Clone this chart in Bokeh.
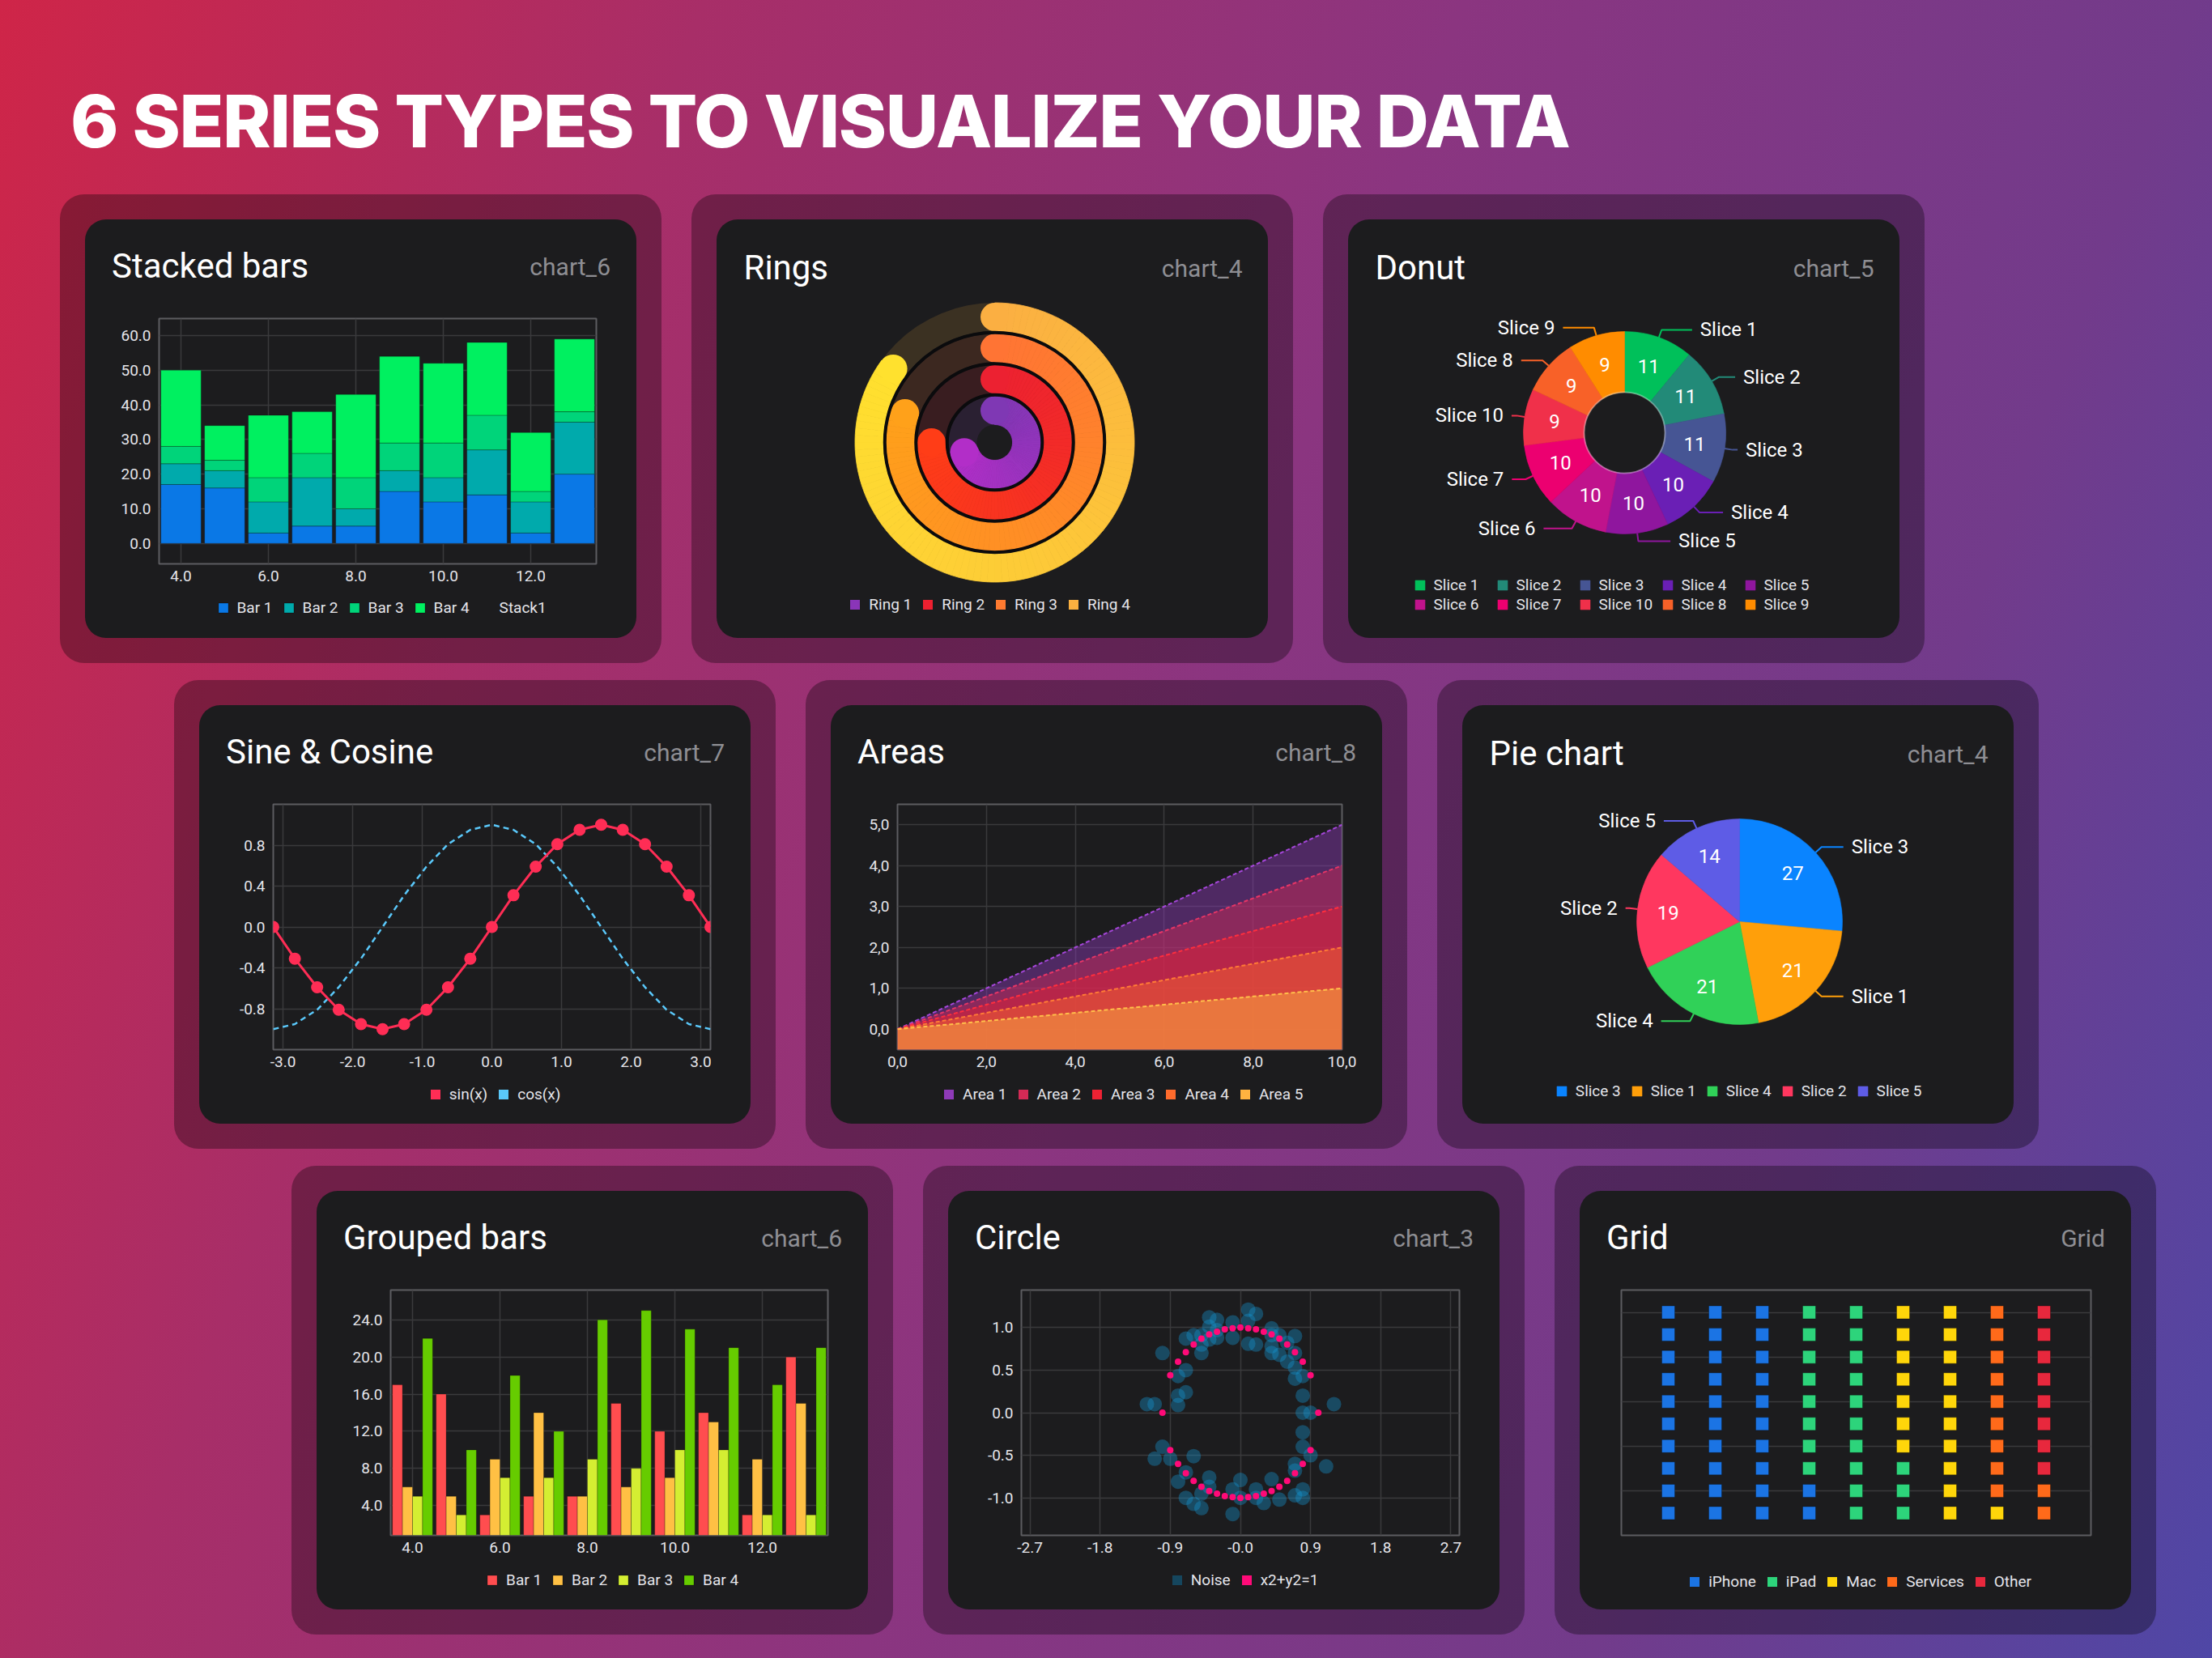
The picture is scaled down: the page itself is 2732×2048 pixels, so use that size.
import math
import html
from bokeh.plotting import figure
from bokeh.models import (Range1d, FixedTicker, NumeralTickFormatter, Legend, LegendItem,
                          Label, Grid, Div, ColumnDataSource)
from bokeh.layouts import column, row
from bokeh.transform import dodge
from bokeh.embed import file_html
from bokeh.resources import INLINE
from bokeh.core.properties import value

# ---------------------------------------------------------------- data
PAGE_TITLE = "6 SERIES TYPES TO VISUALIZE YOUR DATA"

card_titles = ["Stacked bars", "Rings", "Donut", "Sine & Cosine", "Areas", "Pie chart",
               "Grouped bars", "Circle", "Grid"]
card_tags = ["chart_6", "chart_4", "chart_5", "chart_7", "chart_8", "chart_4",
             "chart_6", "chart_3", "Grid"]

bar_x = [4, 5, 6, 7, 8, 9, 10, 11, 12, 13]
bar_names = ["Bar 1", "Bar 2", "Bar 3", "Bar 4"]
bar1 = [17, 16, 3, 5, 5, 15, 12, 14, 3, 20]
bar2 = [6, 5, 9, 14, 5, 6, 7, 13, 9, 15]
bar3 = [5, 3, 7, 7, 9, 8, 10, 10, 3, 3]
bar4 = [22, 10, 18, 12, 24, 25, 23, 21, 17, 21]
stack_label = "Stack1"
bar_xticks = [4, 6, 8, 10, 12]
stack_yticks = [0, 10, 20, 30, 40, 50, 60]
group_yticks = [4, 8, 12, 16, 20, 24]

ring_names = ["Ring 1", "Ring 2", "Ring 3", "Ring 4"]
ring_values = [70, 75, 80, 85]

donut_names = ["Slice 1", "Slice 2", "Slice 3", "Slice 4", "Slice 5",
               "Slice 6", "Slice 7", "Slice 10", "Slice 8", "Slice 9"]
donut_values = [11, 11, 11, 10, 10, 10, 10, 9, 9, 9]

sine_x = [-3.14, -2.83, -2.51, -2.2, -1.88, -1.57, -1.26, -0.94, -0.63, -0.31, 0.0,
          0.31, 0.63, 0.94, 1.26, 1.57, 1.88, 2.2, 2.51, 2.83, 3.14]
sin_y = [0.0, -0.31, -0.59, -0.81, -0.95, -1.0, -0.95, -0.81, -0.59, -0.31, 0.0,
         0.31, 0.59, 0.81, 0.95, 1.0, 0.95, 0.81, 0.59, 0.31, 0.0]
cos_y = [-1.0, -0.95, -0.81, -0.59, -0.31, 0.0, 0.31, 0.59, 0.81, 0.95, 1.0,
         0.95, 0.81, 0.59, 0.31, 0.0, -0.31, -0.59, -0.81, -0.95, -1.0]
sine_names = ["sin(x)", "cos(x)"]
sine_xticks = [-3, -2, -1, 0, 1, 2, 3]
sine_yticks = [-0.8, -0.4, 0, 0.4, 0.8]

area_names = ["Area 1", "Area 2", "Area 3", "Area 4", "Area 5"]
area_x = [0, 1, 2, 3, 4, 5, 6, 7, 8, 9, 10]
area1 = [0.0, 0.5, 1.0, 1.5, 2.0, 2.5, 3.0, 3.5, 4.0, 4.5, 5.0]
area2 = [0.0, 0.4, 0.8, 1.2, 1.6, 2.0, 2.4, 2.8, 3.2, 3.6, 4.0]
area3 = [0.0, 0.3, 0.6, 0.9, 1.2, 1.5, 1.8, 2.1, 2.4, 2.7, 3.0]
area4 = [0.0, 0.2, 0.4, 0.6, 0.8, 1.0, 1.2, 1.4, 1.6, 1.8, 2.0]
area5 = [0.0, 0.1, 0.2, 0.3, 0.4, 0.5, 0.6, 0.7, 0.8, 0.9, 1.0]
area_xticks = [0, 2, 4, 6, 8, 10]
area_xtick_labels = ["0,0", "2,0", "4,0", "6,0", "8,0", "10,0"]
area_yticks = [0, 1, 2, 3, 4, 5]
area_ytick_labels = ["0,0", "1,0", "2,0", "3,0", "4,0", "5,0"]

pie_names = ["Slice 3", "Slice 1", "Slice 4", "Slice 2", "Slice 5"]
pie_values = [27, 21, 21, 19, 14]

circle_names = ["Noise", "x2+y2=1"]
circ_x = [-1.0, -0.9, -0.8, -0.7, -0.6, -0.5, -0.4, -0.3, -0.2, -0.1, 0.0,
          0.1, 0.2, 0.3, 0.4, 0.5, 0.6, 0.7, 0.8, 0.9, 1.0,
          -0.9, -0.8, -0.7, -0.6, -0.5, -0.4, -0.3, -0.2, -0.1, 0.0,
          0.1, 0.2, 0.3, 0.4, 0.5, 0.6, 0.7, 0.8, 0.9]
circ_y = [0.0, 0.44, 0.6, 0.71, 0.8, 0.87, 0.92, 0.95, 0.98, 0.99, 1.0,
          0.99, 0.98, 0.95, 0.92, 0.87, 0.8, 0.71, 0.6, 0.44, 0.0,
          -0.44, -0.6, -0.71, -0.8, -0.87, -0.92, -0.95, -0.98, -0.99, -1.0,
          -0.99, -0.98, -0.95, -0.92, -0.87, -0.8, -0.71, -0.6, -0.44]
noise_x = [0.10, 0.20, -0.40, -0.30, -0.10, 0.10, 0.40, -0.40, -0.60, -0.50,
           -0.30, -0.70, -0.40, -0.30, -0.10, 0.10, 0.20, 0.40, 0.50, 0.70,
           0.60, 0.40, 0.40, 0.50, 0.70, 0.60, 0.70, -1.00, -0.50, -0.50,
           -0.70, -0.80, 0.80, 0.70, -0.80, -0.70, -0.80, -1.20, -1.10, 0.80,
           0.80, 0.90, 1.20, 0.80, -1.00, -1.10, -0.90, -0.60, 0.80, 0.90,
           0.70, 0.70, 1.10, -0.70, -0.80, -0.40, -0.40, 0.00, 0.40, -0.10,
           0.20, -0.50, -0.70, -0.60, -0.50, 0.00, 0.20, 0.30, 0.50, 0.70,
           0.80, 0.80, -0.10]
noise_y = [1.21, 1.16, 1.12, 1.09, 1.06, 1.08, 0.99, 1.01, 0.91, 0.91,
           0.97, 0.87, 0.86, 0.88, 0.88, 0.81, 0.80, 0.91, 0.91, 0.90,
           0.82, 0.78, 0.70, 0.68, 0.70, 0.60, 0.53, 0.70, 0.70, 0.80,
           0.50, 0.43, 0.43, 0.40, 0.20, 0.24, 0.09, 0.10, 0.10, 0.20,
           0.00, 0.00, 0.10, -0.23, -0.40, -0.54, -0.54, -0.51, -0.40, -0.50,
           -0.60, -0.68, -0.63, -0.70, -0.81, -0.76, -0.87, -0.79, -0.78, -0.90,
           -0.90, -0.95, -1.00, -1.07, -1.12, -1.00, -1.00, -1.06, -1.02, -0.97,
           -0.90, -1.00, -1.19]
circ_xticks = [-2.7, -1.8, -0.9, 0, 0.9, 1.8, 2.7]
circ_xtick_labels = ["-2.7", "-1.8", "-0.9", "-0.0", "0.9", "1.8", "2.7"]
circ_yticks = [-1.0, -0.5, 0, 0.5, 1.0]
circ_ytick_labels = ["-1.0", "-0.5", "0.0", "0.5", "1.0"]

grid_names = ["iPhone", "iPad", "Mac", "Services", "Other"]
grid_counts = [32, 21, 18, 11, 8]
GRID_ROWS = 10

# ---------------------------------------------------------------- style
FONT = "Roboto"
CARD_BG = "#1c1c1e"
TXT = "#e5e5ea"
GRID_C = "#3a3a3c"
FRAME_C = "#5c5c60"
CARD_W, CARD_H = 681, 517
HEAD_H, CHART_H = 92, 365          # axis cards: header div / chart figure / legend figure
LEG_H = CARD_H - HEAD_H - CHART_H
GRADIENT = ("linear-gradient(110deg, #cf2548 0%, #a82e68 25%, #8b3580 52%, "
            "#723b8b 78%, #4f47a6 100%)")
CARD_STYLE = {"background-color": CARD_BG, "border-radius": "26px"}

STACK_COLORS = ["#0a78e6", "#00aaac", "#00d47a", "#00f060"]
GROUP_COLORS = ["#ff4d4f", "#ffc044", "#d4ee32", "#66cc00"]
RING_GRAD = [("#7f38b4", "#b22ec8"), ("#ec2131", "#ff3d17"),
             ("#ff7434", "#ffa11a"), ("#fbaf42", "#ffe12e")]
RING_LEGEND = ["#8a35b8", "#ee2030", "#ff7a30", "#fbb040"]
DONUT_COLORS = ["#00c05a", "#228a78", "#465594", "#6a1fb5", "#8f169e",
                "#c0138c", "#ec0070", "#f0304a", "#f86128", "#ff8c00"]
SINE_COLORS = ["#ff2d55", "#5ac8fa"]
AREA_COLORS = ["#8e3ab8", "#d42a55", "#ee2233", "#ff6b2c", "#ffb340"]
AREA_LINES = ["#a446d8", "#e63566", "#ff2e3e", "#ff7a36", "#ffbe4a"]
PIE_COLORS = ["#0a84ff", "#ff9f0a", "#30d158", "#ff375f", "#5e5ce6"]
NOISE_C, CIRCLE_C = "#1496d2", "#ff0a78"
CIRCLE_LEGEND = ["#15465e", CIRCLE_C]
GRID_COLORS = ["#1b74e4", "#2dd47b", "#ffd60a", "#ff6a1a", "#e8283d"]
NAN = float("nan")

# approximate Roboto advance widths (em) used to centre the legends
CHAR_W = {" ": .248, "(": .342, ")": .348, "+": .567, "=": .549, "A": .652, "B": .622,
          "M": .873, "N": .713, "O": .688, "P": .631, "R": .617, "S": .593, "a": .544,
          "c": .523, "d": .563, "e": .529, "g": .560, "h": .551, "i": .243, "k": .506,
          "l": .242, "n": .551, "o": .570, "r": .338, "s": .516, "t": .327, "v": .483,
          "x": .495, "y": .473}
FRAME_BOX = {}


def text_w(s, size=19):
    return sum(CHAR_W.get(ch, .562) for ch in s) * size


def mix(c0, c1, t):
    a = [int(c0[i:i + 2], 16) for i in (1, 3, 5)]
    b = [int(c1[i:i + 2], 16) for i in (1, 3, 5)]
    return "#%02x%02x%02x" % tuple(int(round(a[k] + (b[k] - a[k]) * t)) for k in range(3))


def padded(lo, hi, frac=0.1):
    span = hi - lo
    return Range1d(lo - frac * span, hi + frac * span)


def plain(p, frame_bg, outline):
    p.title.text = ""
    p.background_fill_color = CARD_BG if frame_bg else None
    p.border_fill_color = None
    p.outline_line_color = FRAME_C if outline else None
    p.outline_line_width = 2


def header_div(i):
    txt = ('<div style="position:relative;width:%dpx;height:%dpx;'
           'font-family:Roboto,sans-serif;line-height:normal;">'
           '<span style="position:absolute;left:33px;top:33px;font-size:42px;'
           'color:#ffffff;white-space:nowrap;">%s</span>'
           '<span style="position:absolute;right:32px;top:41px;font-size:30px;'
           'color:#8e8e93;white-space:nowrap;">%s</span></div>'
           % (CARD_W, HEAD_H, html.escape(card_titles[i]), html.escape(card_tags[i])))
    return Div(text=txt, width=CARD_W, height=HEAD_H, margin=0)


def axis_chart(xr, yr, left=91, axes=True):
    kw = {} if axes else dict(x_axis_type=None, y_axis_type=None)
    p = figure(width=CARD_W, height=CHART_H, x_range=xr, y_range=yr,
               output_backend="svg", toolbar_location=None,
               min_border_left=left, min_border_right=50, min_border_top=30,
               min_border_bottom=32, **kw)
    plain(p, True, True)
    return p


def legend_fig(left):
    lf = figure(width=CARD_W, height=LEG_H, x_range=Range1d(0, 1), y_range=Range1d(0, 1),
                output_backend="svg", toolbar_location=None, min_border_left=left,
                min_border_right=50, min_border_top=0, min_border_bottom=0,
                x_axis_type=None, y_axis_type=None)
    plain(lf, False, False)
    FRAME_BOX[lf.id] = (left, CARD_H - LEG_H, CARD_W - 50, CARD_H)
    return lf


def axis_card(i, chart, lfig):
    return column(header_div(i), chart, lfig, width=CARD_W, height=CARD_H, spacing=0,
                  margin=(31, 31, 31, 31), styles=CARD_STYLE)


ROUND_TOP = 30


def round_card(i, cx, cy):
    # one figure for the whole card; data units equal screen pixels, origin at chart centre
    xr = Range1d(-cx, CARD_W - cx)
    yr = Range1d(-(CARD_H - cy), cy - ROUND_TOP)
    p = figure(width=CARD_W, height=CARD_H, x_range=xr, y_range=yr,
               output_backend="svg", toolbar_location=None,
               min_border_left=0, min_border_right=0, min_border_top=ROUND_TOP,
               min_border_bottom=0, x_axis_type=None, y_axis_type=None,
               margin=(31, 31, 31, 31), styles=CARD_STYLE)
    plain(p, False, False)
    FRAME_BOX[p.id] = (0, ROUND_TOP, CARD_W, CARD_H)
    # Label text is anchored at the bottom of its text box: lift it by the descent
    p.add_layout(Label(x=33 - cx, y=cy - 59, text=card_titles[i], text_font=FONT,
                       text_font_size="42px", text_color="#ffffff",
                       text_baseline="alphabetic", text_align="left"))
    p.add_layout(Label(x=649 - cx, y=cy - 60, text=card_tags[i], text_font=FONT,
                       text_font_size="30px", text_color="#8e8e93",
                       text_baseline="alphabetic", text_align="right"))
    return p


def style_axes(p, xticks, yticks, xlabels=None, ylabels=None):
    p.xaxis.ticker = FixedTicker(ticks=xticks)
    p.yaxis.ticker = FixedTicker(ticks=yticks)
    p.xgrid.ticker = FixedTicker(ticks=xticks)
    p.ygrid.ticker = FixedTicker(ticks=yticks)
    if xlabels:
        p.xaxis.major_label_overrides = dict(zip(xticks, xlabels))
    else:
        p.xaxis.formatter = NumeralTickFormatter(format="0.0")
    if ylabels:
        p.yaxis.major_label_overrides = dict(zip(yticks, ylabels))
    else:
        p.yaxis.formatter = NumeralTickFormatter(format="0.0")
    p.axis.axis_line_color = None
    p.axis.major_tick_line_color = None
    p.axis.minor_tick_line_color = None
    p.axis.major_tick_in = 0
    p.axis.major_tick_out = 0
    p.xaxis.major_label_standoff = 8
    p.yaxis.major_label_standoff = 10
    p.axis.major_label_text_color = TXT
    p.axis.major_label_text_font = FONT
    p.axis.major_label_text_font_size = "19px"
    p.grid.grid_line_color = GRID_C
    p.grid.grid_line_width = 1.5


def swatch(p, color, alpha=1.0, line=None):
    # legend-only renderer: a single NaN bar draws nothing in the plot
    return p.vbar(x=[NAN], top=[NAN], width=0.5, fill_color=color, fill_alpha=alpha,
                  line_color=line, line_alpha=0.25 if line else 1.0)


def add_legend(p, items, centre_x, bottom_y, ncols=None, label_width=20, spacing=12):
    labels = [it.label.value for it in items]
    if ncols:
        item_w = 25 + max(label_width, max(text_w(s) for s in labels))
        total_w = 10 + ncols * item_w + (ncols - 1) * spacing
    else:
        total_w = 10 + sum(25 + max(label_width, text_w(s)) for s in labels) \
            + spacing * (len(labels) - 1)
    fl, ft, fr, fb = FRAME_BOX[p.id]
    kw = dict(ncols=ncols) if ncols else {}
    lg = Legend(items=items, location=(centre_x - total_w / 2 - fl, fb - bottom_y),
                orientation="horizontal",
                border_line_color=None, background_fill_color=None,
                label_text_color=TXT, label_text_font=FONT, label_text_font_size="19px",
                glyph_width=15, glyph_height=15, label_standoff=10, spacing=spacing,
                padding=5, margin=0, label_width=label_width, **kw)
    p.add_layout(lg)


def swatch_items(lf, names, colors, line=None):
    return [LegendItem(label=n, renderers=[swatch(lf, c, line=line)])
            for n, c in zip(names, colors)]


def slice_geometry(values):
    total = float(sum(values))
    starts, ends, mids = [], [], []
    cum = 0.0
    for v in values:
        a0 = cum / total * 2 * math.pi
        cum += v
        a1 = cum / total * 2 * math.pi
        starts.append(math.pi / 2 - a1)
        ends.append(math.pi / 2 - a0)
        mids.append((a0 + a1) / 2)
    return starts, ends, mids


def slice_labels(p, names, values, colors, mids, R, value_r):
    xs, ys = [], []
    right = dict(x=[], y=[], t=[])
    left = dict(x=[], y=[], t=[])
    for name, m in zip(names, mids):
        s, c = math.sin(m), math.cos(m)
        side = 1 if s >= 0 else -1
        bx, by = (R + 10) * s, (R + 10) * c
        ex = bx + side * 40 * abs(c)
        xs.append([R * s, bx, ex])
        ys.append([R * c, by, by])
        d = right if side > 0 else left
        d["x"].append(ex + side * 10)
        d["y"].append(by)
        d["t"].append(name)
    p.multi_line(xs, ys, line_color=colors, line_width=2)
    for d, al in ((right, "left"), (left, "right")):
        p.text(x=d["x"], y=d["y"], text=d["t"], text_align=al, text_baseline="middle",
               text_font=value(FONT), text_font_size="24px", text_color="#ffffff")
    p.text(x=[value_r * math.sin(m) for m in mids], y=[value_r * math.cos(m) for m in mids],
           text=[str(v) for v in values], text_align="center", text_baseline="middle",
           text_font=value(FONT), text_font_size="24px", text_color="#ffffff")


# ---------------------------------------------------------------- 1 stacked bars
totals = [a + b + c + d for a, b, c, d in zip(bar1, bar2, bar3, bar4)]
bar_src = ColumnDataSource(dict(x=bar_x, b1=bar1, b2=bar2, b3=bar3, b4=bar4))
p1 = axis_chart(Range1d(bar_x[0] - 0.5, bar_x[-1] + 0.5), padded(0, max(totals)))
style_axes(p1, bar_xticks, stack_yticks)
p1.vbar_stack(["b1", "b2", "b3", "b4"], x="x", width=0.92, source=bar_src,
              fill_color=STACK_COLORS, line_color="#000000", line_alpha=0.25, line_width=1)
l1 = legend_fig(91)
add_legend(l1, swatch_items(l1, bar_names, STACK_COLORS, line="#000000")
           + [LegendItem(label=stack_label, renderers=[swatch(l1, "#000000", alpha=0)])],
           371, 491)
card1 = axis_card(0, p1, l1)

# ---------------------------------------------------------------- 2 rings
p2 = round_card(1, 343, 275)
RING_R0, RING_PITCH, RING_W = 22, 38.5, 35
for i, v in enumerate(ring_values):
    c0, c1 = RING_GRAD[i]
    r_in = RING_R0 + i * RING_PITCH
    r_out = r_in + RING_W
    p2.annulus(x=0, y=0, inner_radius=r_in, outer_radius=r_out, fill_color=c0,
               fill_alpha=0.14, line_color=None)
    sweep = v / 100 * 2 * math.pi
    n = max(2, int(round(v / 100 * 120)))
    a0 = [sweep * k / n for k in range(n)]
    a1 = [sweep * (k + 1) / n for k in range(n)]
    cols = [mix(c0, c1, (k + 0.5) / n) for k in range(n)]
    p2.annular_wedge(x=0, y=0, inner_radius=r_in, outer_radius=r_out,
                     start_angle=[math.pi / 2 - b for b in a1],
                     end_angle=[math.pi / 2 - a for a in a0],
                     fill_color=cols, line_color=cols, line_width=0.8)
    rm = (r_in + r_out) / 2
    p2.scatter(x=[0, rm * math.sin(sweep)], y=[rm, rm * math.cos(sweep)], size=RING_W,
               marker="circle", fill_color=[c0, c1], line_color=None)
sep_r = [RING_R0 + i * RING_PITCH + RING_W + (RING_PITCH - RING_W) / 2 for i in range(3)]
p2.circle(x=[0] * 3, y=[0] * 3, radius=sep_r, fill_color=None, line_color="#0b0b0d",
          line_width=4)
add_legend(p2, swatch_items(p2, ring_names, RING_LEGEND), 342, 487)

# ---------------------------------------------------------------- 3 donut
p3 = round_card(2, 341, 263)
ds, de, dm = slice_geometry(donut_values)
dw = p3.annular_wedge(x=0, y=0, inner_radius=50, outer_radius=125, start_angle=ds,
                      end_angle=de, fill_color=DONUT_COLORS, line_color=DONUT_COLORS,
                      line_width=0.6)
p3.circle(x=0, y=0, radius=50, fill_color=None, line_color="#ffffff", line_alpha=0.35,
          line_width=2)
slice_labels(p3, donut_names, donut_values, DONUT_COLORS, dm, 125, 87.5)
add_legend(p3, [LegendItem(label=n, renderers=[dw], index=i) for i, n in enumerate(donut_names)],
           340, 487, ncols=5, label_width=76, spacing=1)

# ---------------------------------------------------------------- 4 sine & cosine
p4 = axis_chart(Range1d(sine_x[0], sine_x[-1]), padded(min(sin_y), max(sin_y)))
style_axes(p4, sine_xticks, sine_yticks)
p4.line(sine_x, cos_y, line_color=SINE_COLORS[1], line_width=2.5, line_dash="7 5")
p4.line(sine_x, sin_y, line_color=SINE_COLORS[0], line_width=3)
p4.scatter(sine_x, sin_y, size=15, marker="circle", fill_color=SINE_COLORS[0], line_color=None)
l4 = legend_fig(91)
add_legend(l4, swatch_items(l4, sine_names, SINE_COLORS), 370, 492)
card4 = axis_card(3, p4, l4)

# ---------------------------------------------------------------- 5 areas
area_ys = [area1, area2, area3, area4, area5]
yr5 = padded(0, max(area1))
p5 = axis_chart(Range1d(area_x[0], area_x[-1]), yr5, left=82)
style_axes(p5, area_xticks, area_yticks, area_xtick_labels, area_ytick_labels)
for ys, fc, lc in zip(area_ys, AREA_COLORS, AREA_LINES):
    p5.varea(x=area_x, y1=yr5.start, y2=ys, fill_color=fc, fill_alpha=0.45)
    p5.line(area_x, ys, line_color=lc, line_width=2, line_dash="5 3")
l5 = legend_fig(82)
add_legend(l5, swatch_items(l5, area_names, AREA_COLORS), 366, 492)
card5 = axis_card(4, p5, l5)

# ---------------------------------------------------------------- 6 pie
p6 = round_card(5, 342, 267)
ps, pe, pm = slice_geometry(pie_values)
pw = p6.wedge(x=0, y=0, radius=127, start_angle=ps, end_angle=pe, fill_color=PIE_COLORS,
              line_color=PIE_COLORS, line_width=0.6)
slice_labels(p6, pie_names, pie_values, PIE_COLORS, pm, 127, 89)
add_legend(p6, [LegendItem(label=n, renderers=[pw], index=i) for i, n in enumerate(pie_names)],
           346, 488)

# ---------------------------------------------------------------- 7 grouped bars
all_vals = bar1 + bar2 + bar3 + bar4
p7 = axis_chart(Range1d(bar_x[0] - 0.5, bar_x[-1] + 0.5), padded(min(all_vals), max(all_vals)))
style_axes(p7, bar_xticks, group_yticks)
for j, (key, col) in enumerate(zip(["b1", "b2", "b3", "b4"], GROUP_COLORS)):
    p7.vbar(x=dodge("x", (j - 1.5) * 0.23, range=p7.x_range), top=key, width=0.23,
            source=bar_src, fill_color=col, line_color="#000000", line_alpha=0.25)
l7 = legend_fig(91)
add_legend(l7, swatch_items(l7, bar_names, GROUP_COLORS, line="#000000"), 370, 492)
card7 = axis_card(6, p7, l7)

# ---------------------------------------------------------------- 8 circle
p8 = axis_chart(Range1d(-2.81, 2.81), Range1d(-1.44, 1.44), left=90)
style_axes(p8, circ_xticks, circ_yticks, circ_xtick_labels, circ_ytick_labels)
p8.scatter(noise_x, noise_y, size=18, marker="circle", fill_color=NOISE_C, fill_alpha=0.38,
           line_color=None)
p8.scatter(circ_x, circ_y, size=8, marker="circle", fill_color=CIRCLE_C, line_color=None)
l8 = legend_fig(90)
add_legend(l8, swatch_items(l8, circle_names, CIRCLE_LEGEND), 371, 492)
card8 = axis_card(7, p8, l8)

# ---------------------------------------------------------------- 9 grid
p9 = axis_chart(Range1d(-1, 9), Range1d(-1, GRID_ROWS), left=51, axes=False)
p9.add_layout(Grid(dimension=1, ticker=FixedTicker(ticks=[1, 3, 5, 7, 9]),
                   grid_line_color=GRID_C, grid_line_width=1.5))
idx = 0
for cnt, col in zip(grid_counts, GRID_COLORS):
    xs, ys = [], []
    for k in range(cnt):
        xs.append(idx // GRID_ROWS)
        ys.append(idx % GRID_ROWS)
        idx += 1
    p9.scatter(xs, ys, marker="square", size=16, fill_color=col, line_color="#000000",
               line_alpha=0.3)
l9 = legend_fig(51)
add_legend(l9, swatch_items(l9, grid_names, GRID_COLORS), 351, 494)
card9 = axis_card(8, p9, l9)

# ---------------------------------------------------------------- layout
cards = [card1, p2, p3, card4, card5, p6, card7, card8, card9]


def make_box(i):
    return column(cards[i], width=CARD_W + 62, height=CARD_H + 62,
                  styles={"background-color": "rgba(0,0,0,0.32)", "border-radius": "30px"})


title_div = Div(text=PAGE_TITLE, width=2600, height=135, margin=(105, 0, 0, 87),
                styles={"color": "#ffffff", "font-family": "Inter, 'Open Sans', sans-serif",
                        "font-size": "90px", "font-weight": "800", "line-height": "90px",
                        "letter-spacing": "-1.4px", "white-space": "nowrap"})

r1 = row([make_box(i) for i in (0, 1, 2)], spacing=37, margin=(0, 0, 0, 74))
r2 = row([make_box(i) for i in (3, 4, 5)], spacing=37, margin=(21, 0, 0, 215))
r3 = row([make_box(i) for i in (6, 7, 8)], spacing=37, margin=(21, 0, 0, 360))

root = column(title_div, r1, r2, r3, width=2732, height=2048, spacing=0,
              styles={"background": GRADIENT})

open("out.html", "w").write(file_html(root, INLINE, title="6 series types"))
